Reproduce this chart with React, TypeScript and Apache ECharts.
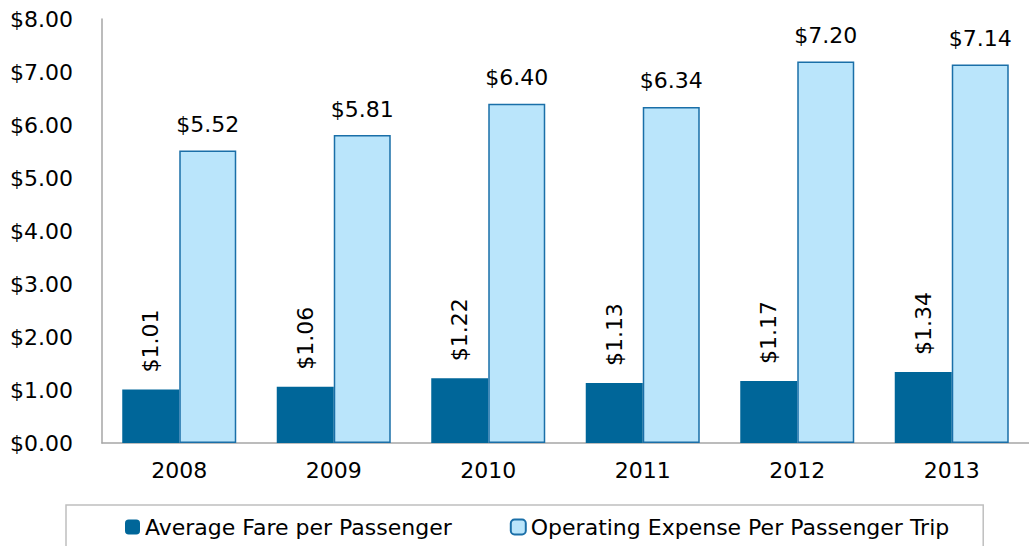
import React, { useEffect, useRef } from "react";
import * as echarts from "echarts";

const years = ["2008", "2009", "2010", "2011", "2012", "2013"];
const avgFare = [1.01, 1.06, 1.22, 1.13, 1.17, 1.34];
const opExpense = [5.52, 5.81, 6.4, 6.34, 7.2, 7.14];
const seriesNames = ["Average Fare per Passenger", "Operating Expense Per Passenger Trip"];

const FONT = "DejaVu Sans";

export default function App() {
  const ref = useRef<HTMLDivElement>(null);
  useEffect(() => {
    document.body.style.margin = "0";
    const chart = echarts.init(ref.current!, undefined, { renderer: "svg" });
    const money = (v: number) => "$" + Number(v).toFixed(2);
    chart.setOption({
      animation: false,
      textStyle: { fontFamily: FONT },
      grid: { left: 102, right: -11, top: 19, bottom: 103 },
      legend: {
        top: 505,
        left: 66,
        padding: [11, 34, 20, 59],
        itemWidth: 15,
        itemHeight: 15,
        itemGap: 58,
        borderColor: "#bfbfbf",
        borderWidth: 1.5,
        textStyle: { fontFamily: FONT, fontSize: 22, color: "#000" },
        data: seriesNames,
      },
      xAxis: {
        type: "category",
        data: years,
        axisTick: { show: false },
        axisLine: { lineStyle: { color: "#a6a6a6", width: 1.5 } },
        axisLabel: { fontSize: 22, color: "#000", margin: 16, fontFamily: FONT },
      },
      yAxis: {
        type: "value",
        min: 0,
        max: 8,
        interval: 1,
        splitLine: { show: false },
        axisTick: { show: false },
        axisLine: { show: true, lineStyle: { color: "#a6a6a6", width: 1.5 } },
        axisLabel: { fontSize: 22, color: "#000", margin: 29, formatter: money, fontFamily: FONT },
      },
      series: [
        {
          name: seriesNames[0],
          type: "bar",
          data: avgFare,
          barWidth: 57,
          barGap: "0%",
          itemStyle: { color: "#006699" },
          label: {
            show: true,
            position: "top",
            rotate: 90,
            align: "left",
            verticalAlign: "middle",
            distance: 17,
            fontSize: 22,
            color: "#000",
            fontFamily: FONT,
            formatter: (p: any) => money(p.value),
          },
        },
        {
          name: seriesNames[1],
          type: "bar",
          data: opExpense,
          barWidth: 57,
          barGap: "0%",
          itemStyle: { color: "#bae5fb", borderColor: "#1a6fa8", borderWidth: 1.5 },
          label: {
            show: true,
            position: "top",
            distance: 15,
            fontSize: 22,
            color: "#000",
            fontFamily: FONT,
            formatter: (p: any) => money(p.value),
          },
        },
      ],
    });
    return () => chart.dispose();
  }, []);
  return <div ref={ref} style={{ width: 1029, height: 546 }} />;
}
